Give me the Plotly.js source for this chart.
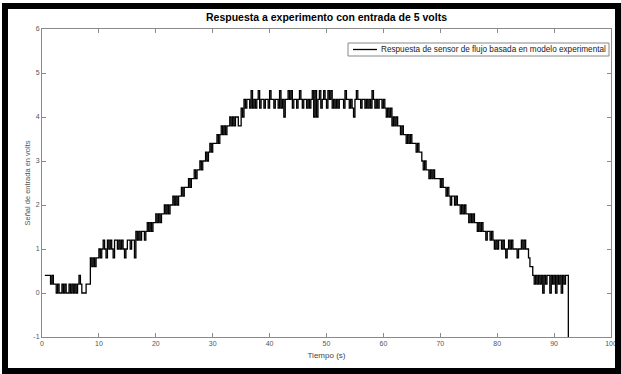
<!DOCTYPE html>
<html>
<head>
<meta charset="utf-8">
<script src="https://cdn.plot.ly/plotly-3.0.1.min.js"></script>
<style>
  html, body { margin: 0; padding: 0; background: #ffffff; }
  #wrap { position: relative; width: 621px; height: 374px; overflow: hidden; background: #ffffff; }
  #chart { position: absolute; left: 0; top: 0; width: 621px; height: 374px; }
  #frame { position: absolute; left: 2px; top: 3px; width: 619px; height: 371px; box-sizing: border-box; border: 6px solid #000; pointer-events: none; }
</style>
</head>
<body>
<div id="wrap">
  <div id="chart"></div>
  <div id="frame"></div>
</div>
<script>
// Sampling grid of the recorded signal (seconds)
const startTime = 0.5;
const samplePeriod = 0.25;

// Recorded sensor response (volts), one row per 5 s of samples
const respuesta = [
  0.4,0.4,0.4,0.4, 0.2,0.4,0.2,0.2, 0,0.2,0,0,0.2,0,0.2,0,0,0.2,0,0.2,
  0,0.2,0,0.2, 0.4,0.2,0,0, 0,0.2,0.2,0.2, 0.8,0.6,0.8,0.6, 0.8,0.8,1.0,0.8,
  1.0,1.2,1.0,0.8, 1.2,1.0,1.2,1.0, 0.8,1.2,1.2,1.0, 1.2,1.0,1.2,1.0, 0.8,1.0,1.2,1.2,
  1.0,1.2,1.2,0.8, 1.4,1.2,1.4,1.2, 1.4,1.4,1.2,1.4, 1.6,1.4,1.6,1.4, 1.6,1.6,1.8,1.6,
  1.8,1.6,1.8,1.8, 2.0,1.8,2.0,1.8, 2.0,2.0,2.2,2.0, 2.2,2.0,2.2,2.2, 2.4,2.2,2.4,2.4,
  2.4,2.6,2.4,2.6, 2.6,2.8,2.6,2.8, 2.8,3.0,2.8,3.0, 3.0,3.2,3.0,3.2, 3.4,3.2,3.4,3.4,
  3.4,3.6,3.4,3.6, 3.8,3.6,3.8,3.6, 3.8,3.8,4.0,3.8, 4.0,3.8,4.0,4.0, 3.8,3.8,4.2,4.0,
  4.4,4.2,4.4,4.4, 4.2,4.6,4.2,4.4, 4.2,4.4,4.6,4.2, 4.4,4.4,4.2,4.4, 4.4,4.2,4.6,4.4,
  4.4,4.2,4.4,4.4, 4.2,4.6,4.2,4.4, 4.0,4.4,4.4,4.6, 4.4,4.6,4.2,4.4, 4.4,4.2,4.4,4.6,
  4.4,4.2,4.4,4.4, 4.2,4.4,4.2,4.4, 4.6,4.0,4.6,4.0, 4.4,4.6,4.2,4.4, 4.6,4.4,4.2,4.6,
  4.4,4.6,4.2,4.4, 4.2,4.4,4.2,4.4, 4.4,4.4,4.2,4.6, 4.4,4.4,4.2,4.4, 4.2,4.0,4.4,4.6,
  4.4,4.4,4.2,4.4, 4.4,4.2,4.4,4.2, 4.4,4.2,4.6,4.4, 4.2,4.4,4.2,4.4, 4.4,4.2,4.4,4.2,
  4.0,4.2,4.0,4.2, 3.8,4.0,3.8,4.0, 3.8,3.8,3.6,3.8, 3.6,3.6,3.4,3.6, 3.4,3.6,3.4,3.4,
  3.4,3.2,3.4,3.2, 3.2,3.0,2.8,3.0, 2.8,2.8,2.6,2.8, 2.6,2.8,2.6,2.6, 2.6,2.6,2.4,2.6,
  2.4,2.4,2.2,2.4, 2.2,2.0,2.2,2.2, 2.0,2.2,2.0,2.0, 1.8,2.0,1.8,2.0, 1.8,1.8,1.6,1.8,
  1.6,1.8,1.6,1.6, 1.4,1.6,1.4,1.6, 1.4,1.4,1.2,1.4, 1.4,1.2,1.4,1.2, 1.0,1.2,1.0,1.2,
  1.2,1.0,1.2,1.0, 0.8,1.0,1.2,1.0, 1.2,1.0,1.0,1.0, 0.8,1.0,1.0,1.2, 1.0,1.2,1.0,1.0,
  0.8,0.6,0.6,0.4, 0.2,0.4,0.2,0.4, 0.2,0.4,0.0,0.4, 0.2,0.4,0.4,0.0, 0.4,0.2,0.4,0.0,
  0.4,0.2,0.4,0.0, 0.4,0.2,0.4,0.4, -1
];
const tiempo = respuesta.map((_, i) => startTime + i * samplePeriod);

const seriesName = 'Respuesta de sensor de flujo basada en modelo experimental';
const xTicks = [0,10,20,30,40,50,60,70,80,90,100];
const yTicks = [-1,0,1,2,3,4,5,6];

const FONT = 'Liberation Sans, Arial, sans-serif';
const axisColor = '#8a8a8a';

// plot area in pixels: x 42..611, y 29..337
const px = v => (v - 42) / 569;
const py = v => (337 - v) / 308;

const trace = {
  x: tiempo,
  y: respuesta,
  type: 'scatter',
  mode: 'lines',
  line: { color: '#000000', width: 1.3, shape: 'hv' },
  name: seriesName,
  showlegend: false
};

const layout = {
  width: 621,
  height: 374,
  margin: { l: 42, r: 10, t: 29, b: 37, pad: 0 },
  paper_bgcolor: '#ffffff',
  plot_bgcolor: '#ffffff',
  font: { family: FONT, size: 7, color: '#555' },
  showlegend: false,
  title: {
    text: '<b>Respuesta a experimento con entrada de 5 volts</b>',
    font: { family: FONT, size: 10.5, color: '#000' },
    x: 0.5, xref: 'paper', xanchor: 'center',
    y: (374 - 17) / 374, yref: 'container', yanchor: 'middle'
  },
  xaxis: {
    range: [0, 100],
    tickvals: xTicks,
    ticktext: xTicks.map(String),
    ticks: 'inside', ticklen: 4, tickcolor: axisColor, tickwidth: 1,
    showline: true, linecolor: axisColor, linewidth: 1, mirror: 'ticks',
    showgrid: false, zeroline: false,
    tickfont: { family: FONT, size: 7, color: '#555' },
    title: { text: 'Tiempo (s)', font: { family: FONT, size: 8, color: '#444' }, standoff: 5 },
    automargin: false
  },
  yaxis: {
    range: [-1, 6],
    tickvals: yTicks,
    ticktext: yTicks.map(String),
    ticks: 'inside', ticklen: 4, tickcolor: axisColor, tickwidth: 1,
    showline: true, linecolor: axisColor, linewidth: 1, mirror: 'ticks',
    showgrid: false, zeroline: false,
    tickfont: { family: FONT, size: 7, color: '#555' },
    title: { text: 'Señal de entrada en volts', font: { family: FONT, size: 7.5, color: '#555' }, standoff: 1 },
    automargin: false
  },
  shapes: [
    { type: 'rect', xref: 'paper', yref: 'paper',
      x0: px(348), x1: px(609), y0: py(56), y1: py(43),
      fillcolor: '#ffffff', line: { color: '#888', width: 1 }, layer: 'above' },
    { type: 'line', xref: 'paper', yref: 'paper',
      x0: px(353), x1: px(377), y0: py(49.5), y1: py(49.5),
      line: { color: '#000', width: 1.3 }, layer: 'above' }
  ],
  annotations: [
    { text: seriesName, xref: 'paper', yref: 'paper',
      x: px(379), y: py(49.5), xanchor: 'left', yanchor: 'middle',
      showarrow: false, font: { family: FONT, size: 8.2, color: '#222' } }
  ]
};

Plotly.newPlot('chart', [trace], layout, { displayModeBar: false, staticPlot: true });
</script>
</body>
</html>
